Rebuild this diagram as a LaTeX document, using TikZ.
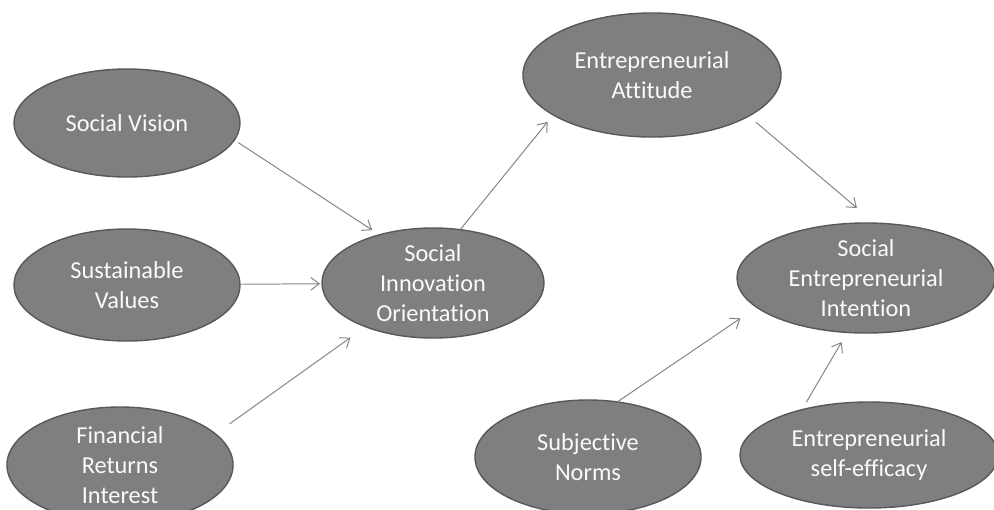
\documentclass[tikz,border=0pt]{standalone}
\usepackage{fontspec}
\setmainfont{Carlito}[Ligatures={NoCommon}]
\usetikzlibrary{shapes.geometric,arrows.meta}
\definecolor{ovalfill}{RGB}{127,127,130}
\definecolor{ovalline}{RGB}{88,88,90}
\definecolor{arrline}{RGB}{132,132,132}
\tikzset{
    oval/.style={ellipse, draw=ovalline, fill=ovalfill, line width=1pt, text=white!96!gray,
        align=center, inner sep=0pt, inner ysep=-4pt, outer sep=0pt,
        font=\fontsize{17.3}{21.3}\selectfont},
    ar/.style={draw=arrline, -{Straight Barb[length=6pt,width=9pt]}, line width=0.7pt}
}

\begin{document}
\begin{tikzpicture}[x=0.025cm, y=-0.025cm]
\useasboundingbox (0,0) rectangle (994,509);

% Left column (antecedents)
\node[oval, minimum width=5.65cm, minimum height=2.7cm] (SV) at (127,123) {Social Vision};
\node[oval, minimum width=5.65cm, minimum height=2.8cm] (SVal) at (127,285) {Sustainable\\Values};
\node[oval, minimum width=5.65cm, minimum height=2.9cm] (FRI) at (120,465) {Financial\\Returns\\Interest};

% Middle
\node[oval, minimum width=5.55cm, minimum height=2.75cm] (SIO) at (433,283) {Social\\Innovation\\Orientation};

% Right side
\node[oval, minimum width=6.45cm, minimum height=3.1cm] (EA) at (652,75) {Entrepreneurial\\Attitude};
\node[oval, minimum width=6.45cm, minimum height=2.75cm] (SEI) at (866,278) {Social\\Entrepreneurial\\Intention};
\node[oval, minimum width=5.65cm, minimum height=2.85cm] (SN) at (588,457) {Subjective\\Norms};
\node[oval, minimum width=6.45cm, minimum height=2.65cm] (SESE) at (869,455) {Entrepreneurial\\self-efficacy};

% Antecedents -> SIO
\draw[ar, shorten <=3.4pt, shorten >=6.1pt] (SV.351) -- (SIO.138);
\draw[ar, shorten <=1pt, shorten >=1.4pt] (SVal) -- (SIO);
\draw[ar, shorten <=12.4pt, shorten >=13.3pt] (FRI.18) -- (SIO.213);

% SIO -> attitude -> intention
\draw[ar, shorten >=6.3pt] (SIO.63) -- (EA.202);
\draw[ar, shorten <=6.7pt, shorten >=16.6pt] (EA.337) -- (SEI.81);

% Norms, self-efficacy -> intention
\draw[ar, shorten >=14pt] (SN.62) -- (SEI.195);
\draw[ar, shorten <=6.2pt, shorten >=7.9pt] (SESE.146) -- (SEI.251);

\end{tikzpicture}
\end{document}
